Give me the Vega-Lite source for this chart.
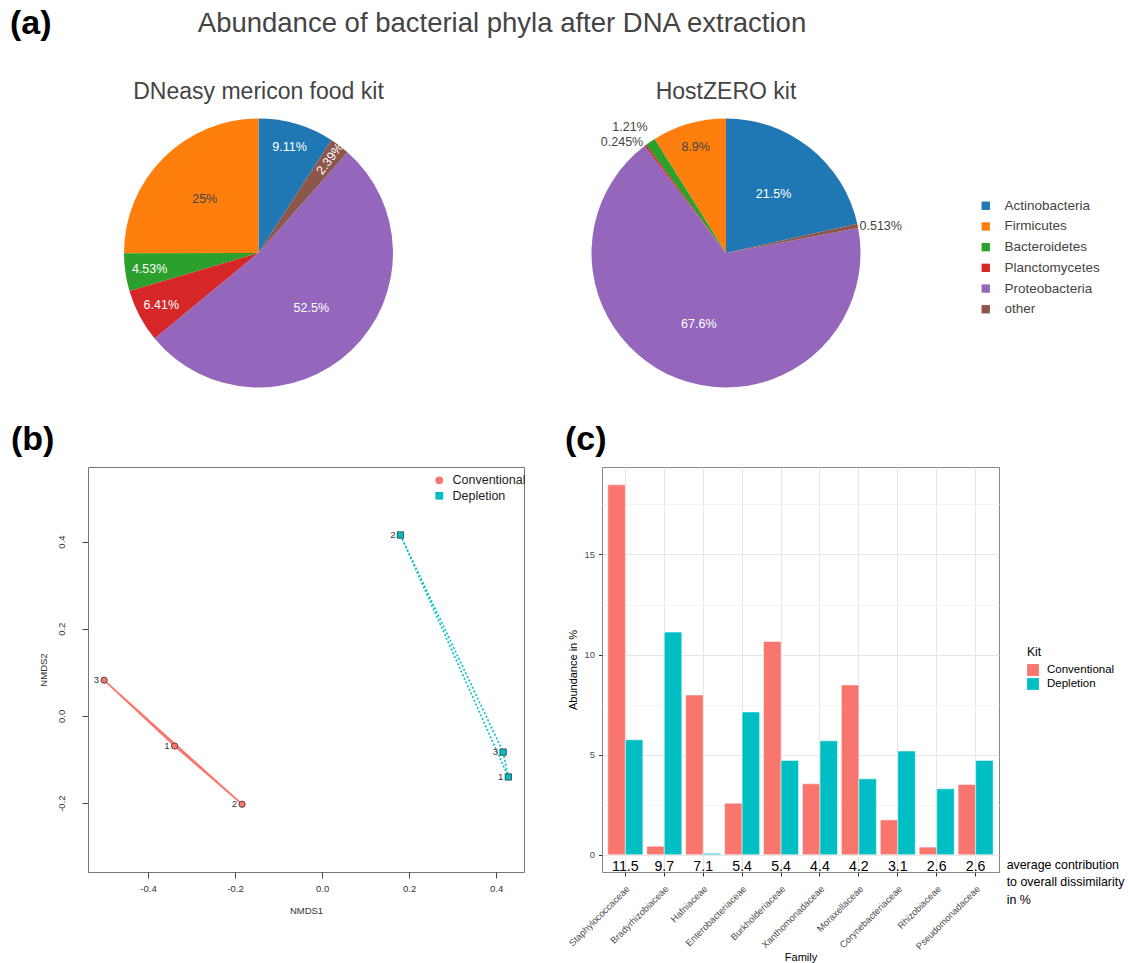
{
  "$schema": "https://vega.github.io/schema/vega-lite/v6.json",
  "background": "white",
  "padding": {"left": 10, "top": 6, "right": 0, "bottom": 0},
  "config": {
    "font": "Liberation Sans",
    "view": {"stroke": null},
    "legend": {"padding": 0}
  },
  "title": {"text": "(a)", "anchor": "start", "frame": "group", "fontSize": 34, "fontWeight": "bold", "color": "#000", "dx": -78, "dy": 35},
  "spacing": 34,
  "resolve": {"scale": {"color": "independent", "shape": "independent"}, "legend": {"color": "independent", "shape": "independent"}},
  "vconcat": [
    {
      "spacing": 162,
      "title": {"text": "Abundance of bacterial phyla after DNA extraction", "anchor": "middle", "frame": "bounds", "fontSize": 27.5, "fontWeight": "normal", "color": "#444", "dx": -92, "offset": 44},
      "resolve": {"legend": {"color": "independent"}},
      "hconcat": [
        {
          "width": 341,
          "height": 270,
          "title": {"text": "DNeasy mericon food kit", "fontSize": 23, "fontWeight": "normal", "color": "#444", "offset": 14},
          "data": {"values": [
            {"phylum": "Actinobacteria", "value": 9.11},
            {"phylum": "Firmicutes", "value": 25},
            {"phylum": "Bacteroidetes", "value": 4.53},
            {"phylum": "Planctomycetes", "value": 6.41},
            {"phylum": "Proteobacteria", "value": 52.5},
            {"phylum": "other", "value": 2.39}
          ]},
          "transform": [
            {"calculate": "indexof(['Actinobacteria','other','Proteobacteria','Planctomycetes','Bacteroidetes','Firmicutes'], datum.phylum)", "as": "k"},
            {"calculate": "datum.value + '%'", "as": "lab"},
            {"stack": "value", "groupby": [], "sort": [{"field": "k", "order": "ascending"}], "offset": "normalize", "as": ["t0", "t1"]},
            {"calculate": "(datum.t0 + datum.t1) / 2", "as": "tm"}
          ],
          "layer": [
            {"mark": {"type": "arc", "outerRadius": 134.5},
             "encoding": {
               "theta": {"field": "t0", "type": "quantitative", "scale": {"domain": [0, 1], "range": [0, 6.283185307179586]}},
               "theta2": {"field": "t1"},
               "color": {"field": "phylum", "type": "nominal",
                 "scale": {"domain": ["Actinobacteria", "Firmicutes", "Bacteroidetes", "Planctomycetes", "Proteobacteria", "other"],
                           "range": ["#1f77b4", "#ff7f0e", "#2ca02c", "#d62728", "#9467bd", "#8c564b"]},
                 "legend": null}}},
            {"transform": [{"filter": "datum.value >= 20"}],
             "mark": {"type": "text", "radius": 76, "fontSize": 12.5},
             "encoding": {
               "theta": {"field": "tm", "type": "quantitative"},
               "text": {"field": "lab"},
               "color": {"condition": {"test": "datum.phylum === 'Firmicutes'", "value": "#444"}, "value": "#ffffff"}}},
            {"transform": [{"filter": "datum.value >= 3 && datum.value < 20"}],
             "mark": {"type": "text", "radius": 110, "fontSize": 12.5},
             "encoding": {
               "theta": {"field": "tm", "type": "quantitative"},
               "text": {"field": "lab"},
               "color": {"condition": {"test": "datum.phylum === 'Firmicutes'", "value": "#444"}, "value": "#ffffff"}}},
            {"transform": [{"filter": "datum.phylum === 'other'"}],
             "mark": {"type": "text", "radius": 118, "fontSize": 12.5, "angle": -52.9, "color": "#ffffff"},
             "encoding": {
               "theta": {"field": "tm", "type": "quantitative"},
               "text": {"field": "lab"}}}
          ]
        },
        {
          "width": 270,
          "height": 270,
          "title": {"text": "HostZERO kit", "fontSize": 23, "fontWeight": "normal", "color": "#444", "offset": 14},
          "data": {"values": [
            {"phylum": "Actinobacteria", "value": 21.5},
            {"phylum": "Firmicutes", "value": 8.9},
            {"phylum": "Bacteroidetes", "value": 1.21},
            {"phylum": "Planctomycetes", "value": 0.245},
            {"phylum": "Proteobacteria", "value": 67.6},
            {"phylum": "other", "value": 0.513}
          ]},
          "transform": [
            {"calculate": "indexof(['Actinobacteria','other','Proteobacteria','Planctomycetes','Bacteroidetes','Firmicutes'], datum.phylum)", "as": "k"},
            {"calculate": "datum.value + '%'", "as": "lab"},
            {"stack": "value", "groupby": [], "sort": [{"field": "k", "order": "ascending"}], "offset": "normalize", "as": ["t0", "t1"]},
            {"calculate": "(datum.t0 + datum.t1) / 2", "as": "tm"}
          ],
          "layer": [
            {"mark": {"type": "arc", "outerRadius": 134.5},
             "encoding": {
               "theta": {"field": "t0", "type": "quantitative", "scale": {"domain": [0, 1], "range": [0, 6.283185307179586]}},
               "theta2": {"field": "t1"},
               "color": {"field": "phylum", "type": "nominal",
                 "scale": {"domain": ["Actinobacteria", "Firmicutes", "Bacteroidetes", "Planctomycetes", "Proteobacteria", "other"],
                           "range": ["#1f77b4", "#ff7f0e", "#2ca02c", "#d62728", "#9467bd", "#8c564b"]},
                 "legend": {"orient": "none", "legendX": 388, "legendY": 81, "title": null, "symbolType": "square", "symbolSize": 70,
                            "symbolStrokeWidth": 0, "labelFontSize": 13.5, "labelColor": "#444", "rowPadding": 5.7, "labelOffset": 12}}}},
            {"transform": [{"filter": "datum.value >= 20"}],
             "mark": {"type": "text", "radius": 76, "fontSize": 12.5},
             "encoding": {
               "theta": {"field": "tm", "type": "quantitative"},
               "text": {"field": "lab"},
               "color": {"condition": {"test": "datum.phylum === 'Firmicutes'", "value": "#444"}, "value": "#ffffff"}}},
            {"transform": [{"filter": "datum.value >= 3 && datum.value < 20"}],
             "mark": {"type": "text", "radius": 110, "fontSize": 12.5},
             "encoding": {
               "theta": {"field": "tm", "type": "quantitative"},
               "text": {"field": "lab"},
               "color": {"condition": {"test": "datum.phylum === 'Firmicutes'", "value": "#444"}, "value": "#ffffff"}}},
            {"transform": [{"filter": "datum.phylum === 'other'"}],
             "mark": {"type": "text", "radius": 158, "fontSize": 12.5, "dy": 5, "color": "#444"},
             "encoding": {
               "theta": {"field": "tm", "type": "quantitative"},
               "text": {"field": "lab"}}},
            {"transform": [{"filter": "datum.phylum === 'Bacteroidetes'"}],
             "mark": {"type": "text", "radius": 160, "fontSize": 12.5, "dx": -6, "dy": 6, "color": "#444"},
             "encoding": {
               "theta": {"field": "tm", "type": "quantitative"},
               "text": {"field": "lab"}}},
            {"transform": [{"filter": "datum.phylum === 'Planctomycetes'"}],
             "mark": {"type": "text", "radius": 160, "fontSize": 12.5, "dx": -8, "dy": 17, "color": "#444"},
             "encoding": {
               "theta": {"field": "tm", "type": "quantitative"},
               "text": {"field": "lab"}}}
          ]
        }
      ]
    },
    {
      "spacing": 37,
      "resolve": {"scale": {"color": "independent", "shape": "independent", "x": "independent", "y": "independent"}, "legend": {"color": "independent", "shape": "independent"}},
      "hconcat": [
        {
          "width": 436,
          "height": 405,
          "title": {"text": "(b)", "anchor": "start", "frame": "group", "fontSize": 34, "fontWeight": "bold", "color": "#000", "dx": -77, "offset": 10},
          "view": {"stroke": "#777", "strokeWidth": 1},
          "data": {"values": [
            {"kit": "Conventional", "sample": "1", "nmds1": -0.339, "nmds2": -0.069},
            {"kit": "Conventional", "sample": "2", "nmds1": -0.184, "nmds2": -0.2025},
            {"kit": "Conventional", "sample": "3", "nmds1": -0.501, "nmds2": 0.082},
            {"kit": "Depletion", "sample": "1", "nmds1": 0.428, "nmds2": -0.140},
            {"kit": "Depletion", "sample": "2", "nmds1": 0.180, "nmds2": 0.415},
            {"kit": "Depletion", "sample": "3", "nmds1": 0.416, "nmds2": -0.083}
          ]},
          "encoding": {
            "x": {"field": "nmds1", "type": "quantitative",
              "scale": {"domain": [-0.538, 0.464], "nice": false, "zero": false},
              "axis": {"title": "NMDS1", "values": [-0.4, -0.2, 0, 0.2, 0.4],
                       "labelExpr": "replace(format(datum.value, '.1f'), '\u2212', '-')",
                       "grid": false, "domain": false, "tickSize": 6, "tickColor": "#444",
                       "labelFontSize": 9.5, "labelColor": "#333", "labelPadding": 5,
                       "titleFontSize": 9.5, "titleFontWeight": "normal", "titleColor": "#333", "titlePadding": 13}},
            "y": {"field": "nmds2", "type": "quantitative",
              "scale": {"domain": [-0.358, 0.571], "nice": false, "zero": false},
              "axis": {"title": "NMDS2", "values": [-0.2, 0, 0.2, 0.4],
                       "labelExpr": "replace(format(datum.value, '.1f'), '\u2212', '-')",
                       "labelAngle": -90, "labelAlign": "center", "labelBaseline": "bottom",
                       "grid": false, "domain": false, "tickSize": 6, "tickColor": "#444",
                       "labelFontSize": 9.5, "labelColor": "#333", "labelPadding": 16,
                       "titleFontSize": 9.5, "titleFontWeight": "normal", "titleColor": "#333", "titlePadding": 8}}
          },
          "layer": [
            {
              "data": {"values": [
                {"kit": "Conventional", "seq": 1, "nmds1": -0.501, "nmds2": 0.082},
                {"kit": "Conventional", "seq": 2, "nmds1": -0.339, "nmds2": -0.069},
                {"kit": "Conventional", "seq": 3, "nmds1": -0.184, "nmds2": -0.2025},
                {"kit": "Conventional", "seq": 4, "nmds1": -0.501, "nmds2": 0.082},
                {"kit": "Depletion", "seq": 1, "nmds1": 0.180, "nmds2": 0.415},
                {"kit": "Depletion", "seq": 2, "nmds1": 0.416, "nmds2": -0.083},
                {"kit": "Depletion", "seq": 3, "nmds1": 0.428, "nmds2": -0.140},
                {"kit": "Depletion", "seq": 4, "nmds1": 0.180, "nmds2": 0.415}
              ]},
              "mark": {"type": "line", "strokeWidth": 1.6},
              "encoding": {
                "order": {"field": "seq", "type": "quantitative"},
                "detail": {"field": "kit", "type": "nominal"},
                "stroke": {"condition": {"test": "datum.kit === 'Conventional'", "value": "#F8766D"}, "value": "#00BFC4"},
                "strokeDash": {"condition": {"test": "datum.kit === 'Conventional'", "value": [1, 0]}, "value": [2, 2]}
              }
            },
            {
              "mark": {"type": "point", "filled": true, "size": 40, "stroke": "#333", "strokeWidth": 0.8, "opacity": 1},
              "encoding": {
                "color": {"field": "kit", "type": "nominal", "scale": {"domain": ["Conventional", "Depletion"], "range": ["#F8766D", "#00BFC4"]},
                  "legend": {"orient": "none", "legendX": 345, "legendY": 7, "title": null, "labelFontSize": 12.5, "labelColor": "#222",
                             "symbolSize": 60, "symbolStrokeWidth": 0, "rowPadding": 2.5, "labelOffset": 7}},
                "shape": {"field": "kit", "type": "nominal", "scale": {"domain": ["Conventional", "Depletion"], "range": ["circle", "square"]},
                  "legend": {"orient": "none", "legendX": 345, "legendY": 7, "title": null, "labelFontSize": 12.5, "labelColor": "#222",
                             "symbolSize": 60, "symbolStrokeWidth": 0, "rowPadding": 2.5, "labelOffset": 7}}
              }
            },
            {
              "mark": {"type": "text", "align": "right", "baseline": "middle", "dx": -5, "fontSize": 9.5, "color": "#333"},
              "encoding": {"text": {"field": "sample", "type": "nominal"}}
            }
          ]
        },
        {
          "width": 397,
          "height": 405,
          "title": {"text": "(c)", "anchor": "start", "frame": "group", "fontSize": 34, "fontWeight": "bold", "color": "#000", "dx": -37, "offset": 10},
          "view": {"stroke": "#888", "strokeWidth": 1},
          "data": {"values": [
            {"family": "Staphylococcaceae", "kit": "Conventional", "abundance": 18.48},
            {"family": "Staphylococcaceae", "kit": "Depletion", "abundance": 5.74},
            {"family": "Bradyrhizobiaceae", "kit": "Conventional", "abundance": 0.42},
            {"family": "Bradyrhizobiaceae", "kit": "Depletion", "abundance": 11.12},
            {"family": "Hafniaceae", "kit": "Conventional", "abundance": 7.98},
            {"family": "Hafniaceae", "kit": "Depletion", "abundance": 0.07},
            {"family": "Enterobacteriaceae", "kit": "Conventional", "abundance": 2.57},
            {"family": "Enterobacteriaceae", "kit": "Depletion", "abundance": 7.13},
            {"family": "Burkholderiaceae", "kit": "Conventional", "abundance": 10.65},
            {"family": "Burkholderiaceae", "kit": "Depletion", "abundance": 4.71},
            {"family": "Xanthomonadaceae", "kit": "Conventional", "abundance": 3.54},
            {"family": "Xanthomonadaceae", "kit": "Depletion", "abundance": 5.69},
            {"family": "Moraxellaceae", "kit": "Conventional", "abundance": 8.48},
            {"family": "Moraxellaceae", "kit": "Depletion", "abundance": 3.79},
            {"family": "Corynebacteriaceae", "kit": "Conventional", "abundance": 1.74},
            {"family": "Corynebacteriaceae", "kit": "Depletion", "abundance": 5.18},
            {"family": "Rhizobiaceae", "kit": "Conventional", "abundance": 0.38},
            {"family": "Rhizobiaceae", "kit": "Depletion", "abundance": 3.29},
            {"family": "Pseudomonadaceae", "kit": "Conventional", "abundance": 3.51},
            {"family": "Pseudomonadaceae", "kit": "Depletion", "abundance": 4.71}
          ]},
          "layer": [
            {
              "mark": {"type": "bar", "stroke": "white", "strokeWidth": 0.5},
              "encoding": {
                "x": {"field": "family", "type": "nominal",
                  "scale": {"domain": ["Staphylococcaceae", "Bradyrhizobiaceae", "Hafniaceae", "Enterobacteriaceae", "Burkholderiaceae", "Xanthomonadaceae", "Moraxellaceae", "Corynebacteriaceae", "Rhizobiaceae", "Pseudomonadaceae"],
                            "paddingInner": 0.1, "paddingOuter": 0.15},
                  "axis": {"title": "Family", "labelAngle": -45, "labelAlign": "right", "labelBaseline": "top",
                           "labelFontSize": 9.4, "labelColor": "#4d4d4d", "labelPadding": 8,
                           "tickSize": 4, "tickColor": "#333", "domain": false,
                           "grid": true, "gridColor": "#e6e6e6", "bandPosition": 0.5,
                           "titleFontSize": 11, "titleFontWeight": "normal", "titleColor": "#000", "titlePadding": 1}},
                "xOffset": {"field": "kit", "type": "nominal", "scale": {"domain": ["Conventional", "Depletion"]}},
                "y": {"field": "abundance", "type": "quantitative",
                  "scale": {"domain": [-0.865, 19.37], "nice": false, "zero": false},
                  "axis": {"title": "Abundance in %", "values": [0, 2.5, 5, 7.5, 10, 12.5, 15, 17.5],
                           "labelExpr": "datum.value % 5 === 0 ? datum.label : ''",
                           "grid": true,
                           "gridColor": {"condition": {"test": "datum.value % 5 === 0", "value": "#e6e6e6"}, "value": "#f3f3f3"},
                           "tickOpacity": {"condition": {"test": "datum.value % 5 === 0", "value": 1}, "value": 0},
                           "tickSize": 3.5, "tickColor": "#333", "domain": false,
                           "labelFontSize": 9.4, "labelColor": "#4d4d4d", "labelPadding": 4,
                           "titleFontSize": 11, "titleFontWeight": "normal", "titleColor": "#000", "titlePadding": 6}},
                "y2": {"datum": 0},
                "color": {"field": "kit", "type": "nominal",
                  "scale": {"domain": ["Conventional", "Depletion"], "range": ["#F8766D", "#00BFC4"]},
                  "legend": {"orient": "none", "legendX": 425, "legendY": 180, "title": "Kit", "titleFontSize": 12, "titleFontWeight": "normal",
                             "titleColor": "#000", "titlePadding": 5, "labelFontSize": 11.5, "labelColor": "#000",
                             "symbolType": "square", "symbolSize": 140, "symbolStrokeWidth": 0, "rowPadding": 2, "labelOffset": 8}}
              }
            },
            {
              "data": {"values": [
                {"family": "Staphylococcaceae", "contrib": 11.5},
                {"family": "Bradyrhizobiaceae", "contrib": 9.7},
                {"family": "Hafniaceae", "contrib": 7.1},
                {"family": "Enterobacteriaceae", "contrib": 5.4},
                {"family": "Burkholderiaceae", "contrib": 5.4},
                {"family": "Xanthomonadaceae", "contrib": 4.4},
                {"family": "Moraxellaceae", "contrib": 4.2},
                {"family": "Corynebacteriaceae", "contrib": 3.1},
                {"family": "Rhizobiaceae", "contrib": 2.6},
                {"family": "Pseudomonadaceae", "contrib": 2.6}
              ]},
              "mark": {"type": "text", "fontSize": 14.2, "color": "#000", "baseline": "middle"},
              "encoding": {
                "x": {"field": "family", "type": "nominal"},
                "y": {"datum": -0.6},
                "text": {"field": "contrib", "type": "quantitative", "format": ".1f"}
              }
            },
            {
              "data": {"values": [{}]},
              "mark": {"type": "text", "align": "left", "baseline": "top", "dx": 31, "dy": -6, "fontSize": 12.4, "lineHeight": 17.5, "color": "#000"},
              "encoding": {
                "x": {"datum": "Pseudomonadaceae"},
                "y": {"datum": -0.5},
                "text": {"value": ["average contribution", "to overall dissimilarity", "in %"]}
              }
            }
          ]
        }
      ]
    }
  ]
}
